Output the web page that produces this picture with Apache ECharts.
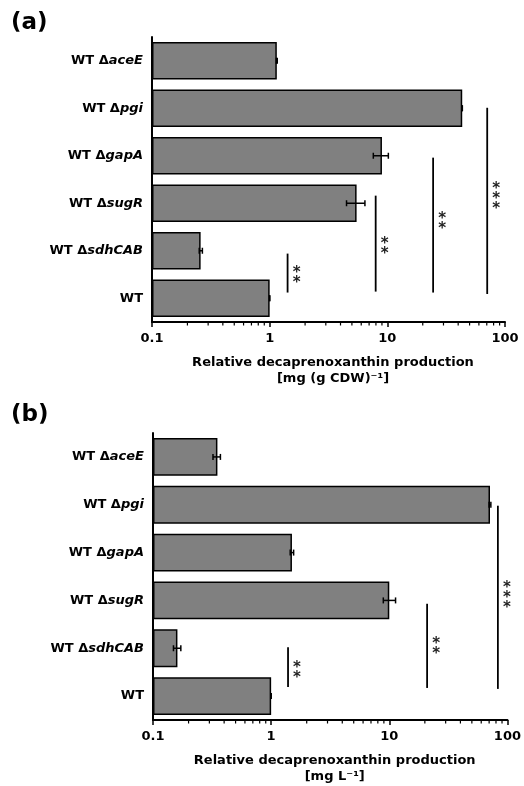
<!DOCTYPE html>
<html lang="en" style="height: 100%">
<head>
  <meta charset="utf-8">
</head>
<body style="height: 100%; margin: 0; background: #fff">
  <div id="container" style="width: 524px; height: 786px"></div>

  <script type="text/javascript" src="https://fastly.jsdelivr.net/npm/echarts@6/dist/echarts.min.js"></script>

  <script type="text/javascript">
    // strains, top to bottom
    var strains = ['WT ΔaceE', 'WT Δpgi', 'WT ΔgapA', 'WT ΔsugR', 'WT ΔsdhCAB', 'WT'];

    // (a) relative content, mg (g CDW)^-1
    var contentA = [1.15, 43.3, 9.0, 5.48, 0.259, 1.0];
    var contentLowA = [1.14, 43.2, 7.6, 4.5, 0.252, 1.0];
    var contentHighA = [1.16, 43.4, 10.2, 6.45, 0.268, 1.0];

    // (b) relative titer, mg L^-1
    var titerB = [0.351, 71.2, 1.50, 10.0, 0.161, 1.0];
    var titerLowB = [0.322, 70.0, 1.45, 8.9, 0.149, 1.0];
    var titerHighB = [0.372, 72.4, 1.55, 11.3, 0.172, 1.0];

    // significance lines: x value, from / to (in category rows), star row
    var sigXA = [1.42, 7.96, 24.5, 70.6];
    var sigFromA = [4.06, 2.84, 2.04, 0.99];
    var sigToA = [4.88, 4.86, 4.88, 4.91];
    var sigStarRowA = [4.48, 3.86, 3.33, 2.81];
    var sigStarsA = ['**', '**', '**', '***'];

    var sigXB = [1.39, 20.9, 83.0];
    var sigFromB = [3.98, 3.07, 1.02];
    var sigToB = [4.81, 4.83, 4.85];
    var sigStarRowB = [4.42, 3.92, 2.84];
    var sigStarsB = ['**', '**', '***'];

    var xTicks = [0.1, 1, 10, 100];
    var minorTicks = [0.2, 0.3, 0.4, 0.5, 0.6, 0.7, 0.8, 0.9,
                      2, 3, 4, 5, 6, 7, 8, 9,
                      20, 30, 40, 50, 60, 70, 80, 90];

    var FONT = 'DejaVu Sans';

    var dom = document.getElementById('container');
    var myChart = echarts.init(dom, null, { renderer: 'canvas' });

    function strainLabel(value) {
      var parts = value.split('Δ');
      if (parts.length < 2) return '{b|' + value + '}';
      return '{b|' + parts[0] + 'Δ}{i|' + parts[1] + '}';
    }

    function makeXAxis(grid, title) {
      return {
        type: 'log',
        gridIndex: grid,
        min: 0.1,
        max: 100,
        logBase: 10,
        startValue: 0.1,
        axisLine: { onZero: false, lineStyle: { color: '#000', width: 2 } },
        axisTick: { length: 5, lineStyle: { color: '#000', width: 1.5 } },
        splitLine: { show: false },
        axisLabel: {
          margin: 10,
          color: '#000',
          fontFamily: FONT,
          fontWeight: 'bold',
          fontSize: 13,
          formatter: function (v) { return xTicks.indexOf(v) >= 0 ? String(v) : ''; }
        },
        name: title,
        nameLocation: 'middle',
        nameGap: 33,
        nameTextStyle: {
          color: '#000',
          fontFamily: FONT,
          fontWeight: 'bold',
          fontSize: 13,
          lineHeight: 16,
          padding: [0, 0, 0, 9]
        }
      };
    }

    function makeYAxis(grid) {
      return {
        type: 'category',
        gridIndex: grid,
        data: strains,
        inverse: true,
        axisLine: { lineStyle: { color: '#000', width: 2 } },
        axisTick: { alignWithLabel: true, length: 5, lineStyle: { color: '#000', width: 1.5 } },
        axisLabel: {
          margin: 9,
          formatter: strainLabel,
          rich: {
            b: { color: '#000', fontFamily: FONT, fontWeight: 'bold', fontSize: 13 },
            i: { color: '#000', fontFamily: FONT, fontWeight: 'bold', fontStyle: 'italic', fontSize: 13 }
          }
        }
      };
    }

    function makeRowAxis(grid) {
      // hidden value axis in category-row units, for annotations
      return {
        type: 'value',
        gridIndex: grid,
        min: -0.5,
        max: 5.5,
        inverse: true,
        show: false
      };
    }

    function barSeries(axis, values) {
      return {
        type: 'bar',
        xAxisIndex: axis,
        yAxisIndex: axis * 2,
        data: values,
        barWidth: '79%',
        itemStyle: { color: '#808080', borderColor: '#000', borderWidth: 1.5 },
        z: 2
      };
    }

    function errorSeries(axis, low, high) {
      var data = strains.map(function (s, i) { return [low[i], i, high[i]]; });
      return {
        type: 'custom',
        xAxisIndex: axis,
        yAxisIndex: axis * 2 + 1,
        data: data,
        clip: false,
        z: 5,
        renderItem: function (params, api) {
          var row = api.value(1);
          var p1 = api.coord([api.value(0), row]);
          var p2 = api.coord([api.value(2), row]);
          var cap = 3;
          var style = { stroke: '#000', lineWidth: 1.5 };
          return {
            type: 'group',
            children: [
              { type: 'line', shape: { x1: p1[0], y1: p1[1], x2: p2[0], y2: p2[1] }, style: style },
              { type: 'line', shape: { x1: p1[0], y1: p1[1] - cap, x2: p1[0], y2: p1[1] + cap }, style: style },
              { type: 'line', shape: { x1: p2[0], y1: p2[1] - cap, x2: p2[0], y2: p2[1] + cap }, style: style }
            ]
          };
        }
      };
    }

    function minorTickSeries(axis) {
      return {
        type: 'custom',
        xAxisIndex: axis,
        yAxisIndex: axis * 2 + 1,
        data: minorTicks.map(function (v) { return [v, 5.5]; }),
        silent: true,
        clip: false,
        z: 5,
        renderItem: function (params, api) {
          var p = api.coord([api.value(0), api.value(1)]);
          return {
            type: 'line',
            shape: { x1: p[0], y1: p[1], x2: p[0], y2: p[1] + 3.5 },
            style: { stroke: '#000', lineWidth: 1.2 }
          };
        }
      };
    }

    function sigSeries(axis, xs, from, to, starRow, stars) {
      var data = xs.map(function (x, i) { return [x, from[i], to[i], starRow[i], i]; });
      return {
        type: 'custom',
        xAxisIndex: axis,
        yAxisIndex: axis * 2 + 1,
        data: data,
        clip: false,
        z: 5,
        renderItem: function (params, api) {
          var x = api.value(0);
          var a = api.coord([x, api.value(1)]);
          var b = api.coord([x, api.value(2)]);
          var s = api.coord([x, api.value(3)]);
          var txt = stars[api.value(4)].split('').join('\n');
          return {
            type: 'group',
            children: [
              { type: 'line', shape: { x1: a[0], y1: a[1], x2: b[0], y2: b[1] }, style: { stroke: '#000', lineWidth: 1.8 } },
              {
                type: 'text',
                x: s[0] + 9,
                y: s[1] + 5,
                style: {
                  text: txt,
                  fill: '#222',
                  font: 'bold 15px ' + FONT,
                  lineHeight: 10,
                  align: 'center',
                  verticalAlign: 'middle'
                }
              }
            ]
          };
        }
      };
    }

    var option = {
      animation: false,
      backgroundColor: '#fff',
      grid: [
        { left: 152, top: 37, width: 353, height: 285 },
        { left: 153, top: 433, width: 357, height: 288 }
      ],
      xAxis: [
        makeXAxis(0, 'Relative decaprenoxanthin production\n[mg (g CDW)⁻¹]'),
        makeXAxis(1, 'Relative decaprenoxanthin production\n[mg L⁻¹]')
      ],
      yAxis: [makeYAxis(0), makeRowAxis(0), makeYAxis(1), makeRowAxis(1)],
      graphic: [
        { type: 'text', left: 11, top: 12, style: { text: '(a)', font: 'bold 23px ' + FONT, fill: '#000' } },
        { type: 'text', left: 11, top: 404, style: { text: '(b)', font: 'bold 23px ' + FONT, fill: '#000' } }
      ],
      series: [
        barSeries(0, contentA),
        errorSeries(0, contentLowA, contentHighA),
        minorTickSeries(0),
        sigSeries(0, sigXA, sigFromA, sigToA, sigStarRowA, sigStarsA),
        barSeries(1, titerB),
        errorSeries(1, titerLowB, titerHighB),
        minorTickSeries(1),
        sigSeries(1, sigXB, sigFromB, sigToB, sigStarRowB, sigStarsB)
      ]
    };

    myChart.setOption(option);

    window.addEventListener('resize', myChart.resize);
  </script>
</body>
</html>
